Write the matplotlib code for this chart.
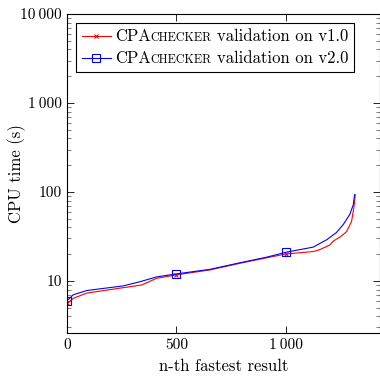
import matplotlib
matplotlib.use("Agg")
import matplotlib.pyplot as plt
from matplotlib.ticker import FixedLocator, FuncFormatter, LogLocator, NullFormatter, NullLocator
from matplotlib.offsetbox import AnchoredOffsetbox, DrawingArea, HPacker, VPacker, TextArea
from matplotlib.lines import Line2D

plt.rcParams["font.family"] = ["cmr10", "DejaVu Serif"]
plt.rcParams["mathtext.fontset"] = "cm"
plt.rcParams["axes.formatter.use_mathtext"] = True

# valores (n-ésimo resultado -> tempo de CPU em s)
n_v1 = [0, 30, 90, 242, 341, 409, 500, 653, 790, 912, 1000, 1125, 1155, 1201, 1216, 1250, 1277, 1300, 1311, 1317]
cpu_v1 = [5.6, 6.4, 7.3, 8.3, 9.0, 10.7, 11.7, 13.3, 15.8, 18.2, 20.1, 21.4, 22.5, 25.4, 28.0, 31.5, 35.8, 46.5, 68.0, 93.0]

n_v2 = [0, 29, 90, 257, 333, 409, 500, 653, 790, 912, 1000, 1125, 1186, 1231, 1262, 1292, 1308, 1314]
cpu_v2 = [6.0, 7.0, 7.8, 8.8, 9.8, 11.1, 12.0, 13.5, 16.0, 18.5, 21.0, 24.0, 29.0, 35.0, 43.0, 56.0, 72.0, 93.0]

tool = "CPAchecker"
versions = ["v1.0", "v2.0"]
x_ticks = [0, 500, 1000]
y_ticks = [10, 100, 1000, 10000]


def thousands(v, _pos=None):
    return f"{int(round(v)):,}".replace(",", "\u2009")


fig = plt.figure(figsize=(3.8, 3.77), dpi=100)
ax = fig.add_axes([67 / 380, 1 - 333 / 377, 313 / 380, 319 / 377])

series = [
    (n_v1, cpu_v1, "red", "x", 3.5, "red"),
    (n_v2, cpu_v2, "blue", "s", 5.5, "none"),
]
for xs, ys, color, marker, ms, mfc in series:
    marks = [i for i, x in enumerate(xs) if x in x_ticks]
    ax.plot(xs, ys, color=color, lw=0.8, marker=marker, ms=ms, mfc=mfc, mew=0.8, markevery=marks)

ax.set_yscale("log")
ax.set_xlim(0, 1430)
ax.set_ylim(2.6, 10000)
ax.xaxis.set_major_locator(FixedLocator(x_ticks))
ax.xaxis.set_minor_locator(NullLocator())
ax.xaxis.set_major_formatter(FuncFormatter(thousands))
ax.yaxis.set_major_locator(FixedLocator(y_ticks))
ax.yaxis.set_minor_locator(LogLocator(base=10, subs=range(2, 10)))
ax.yaxis.set_major_formatter(FuncFormatter(thousands))
ax.yaxis.set_minor_formatter(NullFormatter())
ax.tick_params(which="both", direction="in", top=True, right=True, labelsize=11, width=0.6)
ax.tick_params(which="major", length=5)
ax.tick_params(which="minor", length=3, color="0.4")
for sp in ax.spines.values():
    sp.set_linewidth(0.8)

ax.set_xlabel("n-th fastest result", fontsize=12, labelpad=5)
ax.set_ylabel("CPU time (s)", fontsize=12)
ax.yaxis.set_label_coords(-0.131, 0.5)

# legenda manual para imitar o versalete do nome da ferramenta
rows = []
for (xs, ys, color, marker, ms, mfc), version in zip(series, versions):
    da = DrawingArea(21, 8, 0, 0)
    da.add_artist(Line2D([0, 21], [4, 4], color=color, lw=0.8))
    da.add_artist(Line2D([10.5], [4], color=color, marker=marker, ms=ms, mfc=mfc, mew=0.8, lw=0))
    name = HPacker(children=[TextArea(tool[:3], textprops=dict(size=12)),
                             TextArea(tool[3:].upper(), textprops=dict(size=8.7))],
                   align="baseline", pad=0, sep=0)
    label = HPacker(children=[name, TextArea(f"validation on {version}", textprops=dict(size=12))],
                    align="baseline", pad=0, sep=3.8)
    rows.append(HPacker(children=[da, label], align="center", pad=0, sep=3))
box = AnchoredOffsetbox(loc="upper left", child=VPacker(children=rows, align="left", pad=0, sep=5),
                        pad=0.4, borderpad=0, frameon=True,
                        bbox_to_anchor=(76 / 380, 1 - 23 / 377), bbox_transform=fig.transFigure)
box.patch.set_boxstyle("square", pad=0)
box.patch.set_linewidth(0.8)
box.patch.set_edgecolor("black")
ax.add_artist(box)

fig.savefig("out.png", dpi=100)
